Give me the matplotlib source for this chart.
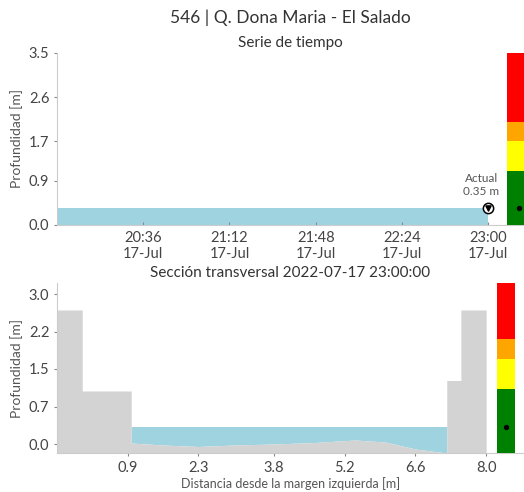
import matplotlib
matplotlib.use("Agg")
import matplotlib.pyplot as plt
import datetime as dt

# --- data ---
station = "546 | Q. Dona Maria - El Salado"
fecha = "2022-07-17 23:00:00"
serie_t = ["20:00", "20:30", "21:00", "21:30", "22:00", "22:30", "23:00"]
serie_h = [0.35, 0.35, 0.35, 0.35, 0.35, 0.35, 0.35]
actual = 0.35
time_ticks = ["20:36", "21:12", "21:48", "22:24", "23:00"]
top_yticks = [0.0, 0.9, 1.7, 2.6, 3.5]

# cross section (x, bed elevation)
sec_x = [-0.5, 0.0, 0.0, 0.97, 0.97, 1.6, 2.3, 3.0, 3.8, 4.6, 5.4, 6.0, 6.6, 7.22, 7.22, 7.5, 7.5, 8.0]
sec_z = [2.68, 2.68, 1.06, 1.06, 0.02, -0.02, -0.05, -0.02, 0.0, 0.03, 0.08, 0.04, -0.1, -0.18, 1.27, 1.27, 2.68, 2.68]
water_x = [0.97, 1.6, 2.3, 3.0, 3.8, 4.6, 5.4, 6.0, 6.6, 7.22]
water_bed = [0.02, -0.02, -0.05, -0.02, 0.0, 0.03, 0.08, 0.04, -0.1, -0.18]
sec_xticks = [0.9, 2.3, 3.8, 5.2, 6.6, 8.0]
sec_xlabels = ["0.9", "2.3", "3.8", "5.2", "6.6", "8.0"]
sec_yticks = [0.0, 0.75, 1.5, 2.25, 3.0]
sec_ylabels = ["0.0", "0.7", "1.5", "2.2", "3.0"]

# alert levels and colours
niveles = [1.1, 1.7, 2.1]
colores = ["green", "yellow", "orange", "red"]

plt.rcParams["font.family"] = ["Lato", "DejaVu Sans"]
txt = "#444444"
spine_c = "#cccccc"
water_c = "#9fd3e0"
ground_c = "#d3d3d3"

W, H = 524, 492
fig = plt.figure(figsize=(W / 100, H / 100), dpi=100)


def box(l, t, r, b):
    return [l / W, 1 - b / H, (r - l) / W, (b - t) / H]


def style(ax):
    for s in ["top", "right"]:
        ax.spines[s].set_visible(False)
    for s in ["left", "bottom"]:
        ax.spines[s].set_color(spine_c)
    ax.tick_params(colors=txt, labelsize=10.5, length=2, color="#888888")


def alert_bar(ax, ymin, ymax):
    edges = [ymin] + niveles + [ymax]
    for i, c in enumerate(colores):
        ax.bar(0, edges[i + 1] - edges[i], bottom=edges[i], width=1, color=c)
    ax.scatter([0], [actual], s=8, color="black", zorder=3)
    ax.set_xlim(-0.5, 0.5)
    ax.set_ylim(ymin, ymax)
    ax.axis("off")


fig.text(290 / W, 1 - 18 / H, station, ha="center", va="center", fontsize=12.5, color="#333333")

# --- time series ---
ax1 = fig.add_axes(box(57, 53, 524, 225))
day = dt.date(2022, 7, 17)
t = [dt.datetime.combine(day, dt.datetime.strptime(s, "%H:%M").time()) for s in serie_t]
ax1.fill_between(t, 0, serie_h, color=water_c, linewidth=0)
t_end = t[-1]
ax1.scatter([t_end], [actual], s=55, facecolor="white", edgecolor="black", linewidth=1.1, zorder=4)
ax1.scatter([t_end], [actual], s=14, marker="v", color="black", zorder=5)
ax1.annotate("Actual\n0.35 m", (t_end, actual), xytext=(-5, 8), textcoords="offset points",
             ha="center", va="bottom", fontsize=8.5, color="#555555")
ax1.set_xlim(t[0], t[0] + dt.timedelta(minutes=195))
ax1.set_ylim(0, 3.5)
ticks = [dt.datetime.combine(day, dt.datetime.strptime(s, "%H:%M").time()) for s in time_ticks]
ax1.set_xticks(ticks)
ax1.set_xticklabels([s + "\n17-Jul" for s in time_ticks])
ax1.set_yticks(top_yticks)
ax1.set_yticklabels([f"{v:.1f}" for v in top_yticks])
style(ax1)
ax1.tick_params(axis="x", direction="in", pad=4)
ax1.set_ylabel("Profundidad [m]", fontsize=10, color="#555555")
ax1.set_title("Serie de tiempo", fontsize=11, color="#333333", pad=4)

bar1 = fig.add_axes(box(507, 53, 531, 225))
alert_bar(bar1, 0, 3.5)

# --- cross section ---
ax2 = fig.add_axes(box(57, 283, 524, 453))
ymin2, ymax2 = -0.18, 3.22
ax2.fill_between(water_x, water_bed, actual, color=water_c, linewidth=0)
ax2.fill_between(sec_x, ymin2, sec_z, color=ground_c, linewidth=0)
ax2.set_xlim(-0.5, 8.75)
ax2.set_ylim(ymin2, ymax2)
ax2.set_xticks(sec_xticks)
ax2.set_xticklabels(sec_xlabels)
ax2.set_yticks(sec_yticks)
ax2.set_yticklabels(sec_ylabels)
style(ax2)
ax2.set_ylabel("Profundidad [m]", fontsize=10, color="#555555")
ax2.set_xlabel("Distancia desde la margen izquierda [m]", fontsize=9, color="#555555", labelpad=2)
ax2.set_title("Sección transversal " + fecha, fontsize=11, color="#333333", pad=4)

bar2 = fig.add_axes(box(497, 283, 515, 453))
alert_bar(bar2, ymin2, ymax2)

fig.savefig("out.png", dpi=100)
